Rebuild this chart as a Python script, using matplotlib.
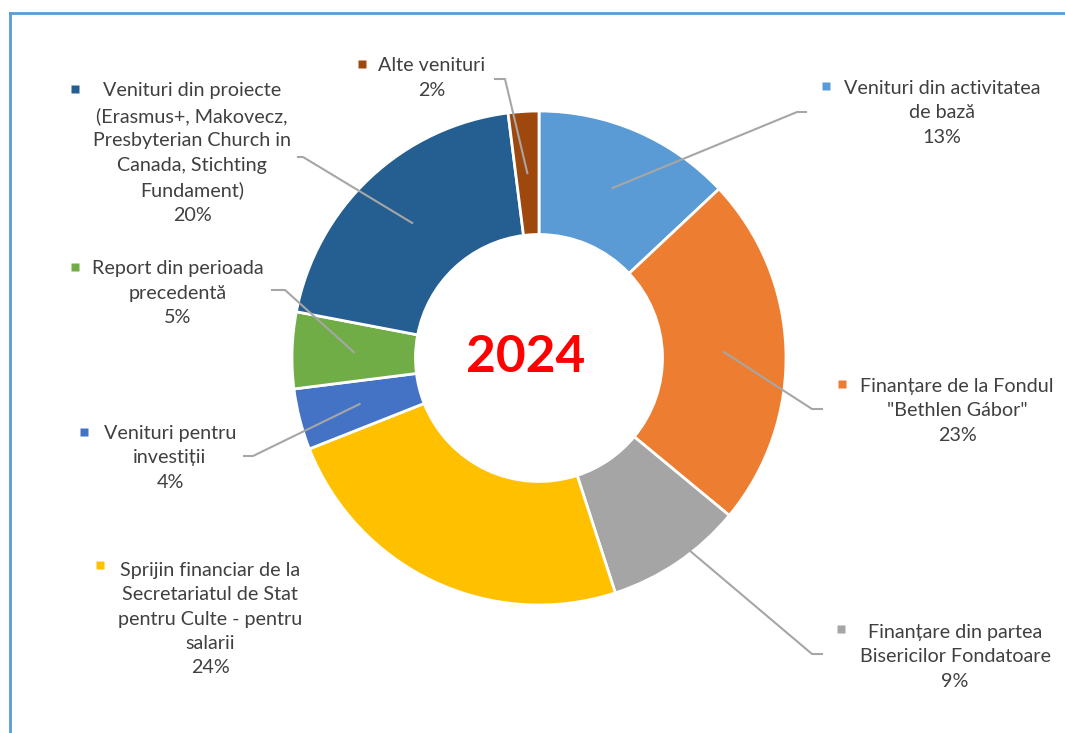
import matplotlib.pyplot as plt
import numpy as np

plt.rcParams['font.family'] = ['Lato', 'DejaVu Sans']

# data, clockwise from 12 o'clock
labels = ['Venituri din activitatea\nde bază',
          'Finanțare de la Fondul\n"Bethlen Gábor"',
          'Finanțare din partea\nBisericilor Fondatoare',
          'Sprijin financiar de la\nSecretariatul de Stat\npentru Culte - pentru\nsalarii',
          'Venituri pentru\ninvestiții',
          'Report din perioada\nprecedentă',
          'Venituri din proiecte\n(Erasmus+, Makovecz,\nPresbyterian Church in\nCanada, Stichting\nFundament)',
          'Alte venituri']
values = [13, 23, 9, 24, 4, 5, 20, 2]
colors = ['#5B9BD5', '#ED7D31', '#A5A5A5', '#FFC000',
          '#4472C4', '#70AD47', '#255E91', '#9E480E']

# label layout (pixels)
text_pos = [(942, 113), (957, 411), (955, 657), (210, 619),
            (170, 458), (178, 293), (192, 153), (432, 78)]
marker_pos = [(826, 86), (842, 384), (841, 629), (100, 565),
              (84, 432), (75, 267), (75, 89), (362, 64)]
# leader line elbow and end, None = no leader
leaders = [((797, 112), (806, 112)), ((812, 409), (822, 409)),
           ((812, 654), (822, 654)), None,
           ((253, 456), (244, 456)), ((285, 290), (272, 290)),
           ((303, 157), (298, 157)), ((505, 79), (495, 79))]

cx, cy, R = 539, 358, 247

fig = plt.figure(figsize=(10.65, 7.33), dpi=100)
ax = fig.add_axes([0, 0, 1, 1])

wedges, _ = ax.pie(values, colors=colors, startangle=-90, counterclock=True,
                   radius=R, center=(cx, cy),
                   wedgeprops=dict(width=R * 0.5, edgecolor='white', linewidth=2))
ax.set_xlim(0, 1065)
ax.set_ylim(733, 0)
ax.set_aspect('auto')
ax.axis('off')

# chart frame (top and left edges)
ax.plot([10, 1065], [13, 13], color='#5B9BD5', lw=2, clip_on=False)
ax.plot([10, 10], [13, 733], color='#5B9BD5', lw=2, clip_on=False)

for i, w in enumerate(wedges):
    txt = labels[i] + '\n' + f'{values[i]}%'
    ax.text(text_pos[i][0], text_pos[i][1], txt, ha='center', va='center',
            fontsize=14.2, color='#404040', linespacing=1.52)
    ax.plot(*marker_pos[i], marker='s', ms=6, color=colors[i], mec='none')
    if leaders[i] is not None:
        mid = np.deg2rad((w.theta1 + w.theta2) / 2)
        sx = cx + 0.75 * R * np.cos(mid)
        sy = cy + 0.75 * R * np.sin(mid)
        (ex, ey), (fx, fy) = leaders[i]
        ax.plot([sx, ex, fx], [sy, ey, fy], color='#A6A6A6', lw=1.5)

ax.text(526, 357, '2024', ha='center', va='center', fontsize=37,
        fontweight='bold', color='#FF0000')

fig.savefig('out.png', dpi=100, facecolor='white')
